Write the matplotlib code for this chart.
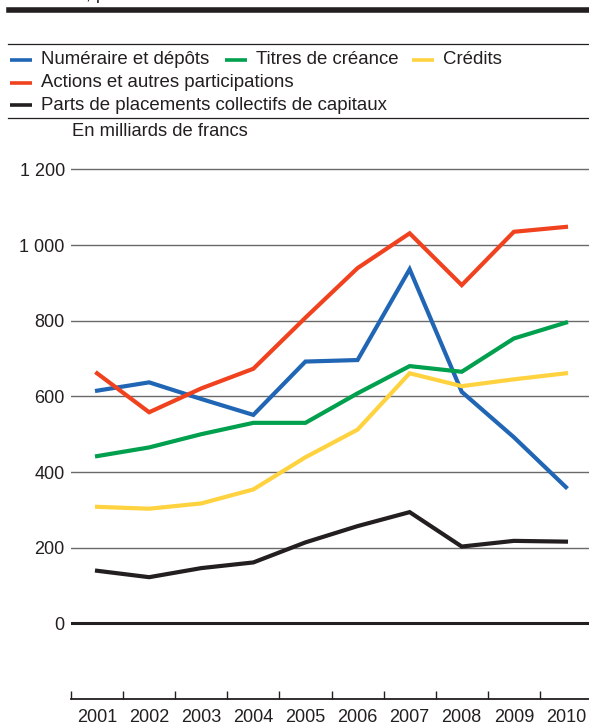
import matplotlib.pyplot as plt
from matplotlib.lines import Line2D
from matplotlib.ticker import FixedLocator, FuncFormatter

# valeurs, en milliards de francs
years = list(range(2001, 2011))
numeraire = [615, 637, 593, 551, 692, 696, 936, 612, 492, 360]
titres = [442, 465, 500, 530, 530, 608, 680, 665, 753, 795]
credits = [308, 303, 317, 354, 439, 512, 661, 627, 645, 661]
actions = [661, 558, 621, 673, 808, 939, 1031, 894, 1035, 1048]
parts = [139, 122, 146, 161, 214, 257, 294, 203, 218, 216]

labels = ["Numéraire et dépôts", "Titres de créance", "Crédits",
          "Actions et autres participations",
          "Parts de placements collectifs de capitaux"]
colors = ["#2166b5", "#00a04e", "#ffd23f", "#f0421e", "#231f20"]
series = [numeraire, titres, credits, actions, parts]
yticks = [0, 200, 400, 600, 800, 1000, 1200]

plt.rcParams['font.family'] = ['Liberation Sans', 'DejaVu Sans']
txt = "#231f20"

W, H = 589, 725
fig = plt.figure(figsize=(W / 100, H / 100), dpi=100)

def fx(px):
    return px / W

def fy(py):
    return 1 - py / H

# en-tete : titre coupe, trait epais, filets
fig.text(fx(86), fy(-1), ", p", fontsize=13, color=txt, va='baseline')
fig.add_artist(Line2D([fx(9), 1], [fy(10), fy(10)], lw=4, color=txt))
fig.add_artist(Line2D([fx(8), 1], [fy(44), fy(44)], lw=0.9, color=txt))
fig.add_artist(Line2D([fx(8), 1], [fy(118), fy(118)], lw=0.9, color=txt))

# legende manuelle
leg_pos = [(10, 60), (225, 60), (412, 60), (10, 82.5), (10, 105)]
for (x0, y0), lab, c in zip(leg_pos, labels, colors):
    fig.add_artist(Line2D([fx(x0), fx(x0 + 22)], [fy(y0), fy(y0)],
                          lw=2.6, color=c, solid_capstyle='butt'))
    fig.text(fx(x0 + 31), fy(y0), lab, fontsize=13.4, color=txt,
             va='center', ha='left')

fig.text(fx(72), fy(131), "En milliards de francs", fontsize=13.2,
         color=txt, va='center', ha='left')

# axes
ymin, ymax = -200, 1205
px_per_unit = 75.66 / 200
top_px = 699 - (ymax - ymin) * px_per_unit
ax = fig.add_axes([fx(71), fy(699), (592 - 71) / W, (699 - top_px) / H])

for vals, c, lab in zip(series, colors, labels):
    ax.plot(years, vals, color=c, lw=3, label=lab, zorder=3,
            solid_joinstyle='miter')

ax.set_xlim(2000.5, 2010.5)
ax.set_ylim(ymin, ymax)

ax.set_yticks(yticks)
ax.yaxis.set_major_formatter(FuncFormatter(lambda v, p: f"{int(v):,}".replace(",", " ")))
ax.yaxis.grid(True, color="#6a6a6a", lw=1)
ax.axhline(0, color=txt, lw=2.2, zorder=2)
ax.tick_params(axis='y', length=0, pad=4.5, labelsize=13, labelcolor=txt)

ax.xaxis.set_major_locator(FixedLocator([y - 0.5 for y in years] + [2010.5]))
ax.xaxis.set_minor_locator(FixedLocator(years))
ax.xaxis.set_major_formatter(FuncFormatter(lambda v, p: ""))
ax.xaxis.set_minor_formatter(FuncFormatter(lambda v, p: str(int(v))))
ax.tick_params(axis='x', which='major', direction='in', length=6, width=1, color=txt)
ax.tick_params(axis='x', which='minor', length=0, pad=7, labelsize=13, labelcolor=txt)

for s in ['top', 'left', 'right']:
    ax.spines[s].set_visible(False)
ax.spines['bottom'].set_color(txt)
ax.spines['bottom'].set_linewidth(1.3)
ax.set_axisbelow(True)

fig.savefig("out.png", dpi=100)
